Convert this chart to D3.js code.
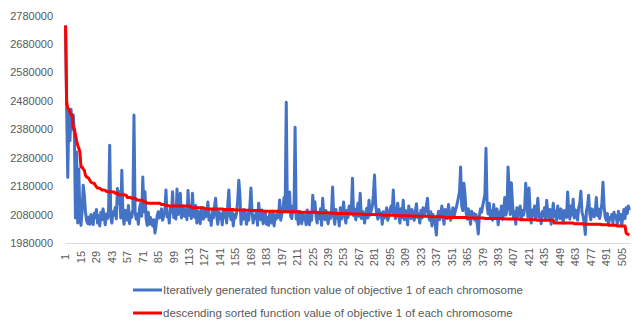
<!DOCTYPE html>
<html>
<head>
<meta charset="utf-8">
<script src="https://cdn.jsdelivr.net/npm/d3@7"></script>
<style>
    body { margin: 0; background: #fff; }
    text { font-family: "Liberation Sans", Arial, sans-serif; fill: #595959; }
</style>
</head>
<body>
<div id="chart"></div>
<script>

// function value of objective 1, one per chromosome
const objective1 = [
    2745000, 2455000, 2210000, 2440000, 2340000, 2450000, 2380000, 2430000, 2360000, 2068000, 2300000, 2050000, 2240000, 2075000, 2042000, 2090000,
    2183000, 2150000, 2092000, 2060000, 2048000, 2071000, 2046000, 2080000, 2064000, 2045000, 2085000, 2070000, 2098000, 2050000, 2076000, 2040000,
    2088000, 2062000, 2100000, 2072000, 2044000, 2082000, 2066000, 2095000, 2324000, 2070000, 2050000, 2090000, 2078000, 2105000, 2065000, 2172000,
    2120000, 2160000, 2068000, 2236000, 2080000, 2046000, 2095000, 2074000, 2060000, 2112000, 2048000, 2085000, 2070000, 2100000, 2430000, 2090000,
    2064000, 2082000, 2046000, 2100000, 2120000, 2074000, 2212000, 2090000, 2160000, 2066000, 2042000, 2088000, 2046000, 2070000, 2050000, 2040000,
    2062000, 2015000, 2040000, 2075000, 2090000, 2068000, 2082000, 2100000, 2060000, 2078000, 2095000, 2166000, 2072000, 2085000, 2050000, 2104000,
    2088000, 2160000, 2070000, 2092000, 2064000, 2170000, 2080000, 2098000, 2155000, 2068000, 2086000, 2110000, 2074000, 2096000, 2062000, 2165000,
    2078000, 2100000, 2066000, 2155000, 2085000, 2070000, 2112000, 2050000, 2092000, 2076000, 2048000, 2104000, 2080000, 2064000, 2095000, 2072000,
    2086000, 2124000, 2060000, 2078000, 2042000, 2094000, 2068000, 2110000, 2137000, 2074000, 2046000, 2090000, 2066000, 2082000, 2044000, 2098000,
    2070000, 2088000, 2050000, 2115000, 2166000, 2076000, 2062000, 2092000, 2040000, 2080000, 2068000, 2086000, 2130000, 2201000, 2150000, 2046000,
    2086000, 2064000, 2098000, 2072000, 2046000, 2084000, 2060000, 2110000, 2173000, 2090000, 2050000, 2076000, 2066000, 2094000, 2042000, 2120000,
    2080000, 2062000, 2096000, 2048000, 2074000, 2088000, 2046000, 2070000, 2042000, 2084000, 2066000, 2050000, 2092000, 2040000, 2078000, 2064000,
    2086000, 2070000, 2131000, 2060000, 2082000, 2100000, 2140000, 2095000, 2475000, 2090000, 2150000, 2159000, 2074000, 2066000, 2110000, 2088000,
    2387000, 2064000, 2080000, 2046000, 2092000, 2070000, 2048000, 2084000, 2062000, 2076000, 2044000, 2096000, 2068000, 2044000, 2082000, 2060000,
    2148000, 2090000, 2125000, 2072000, 2050000, 2086000, 2066000, 2100000, 2042000, 2137000, 2078000, 2062000, 2094000, 2070000, 2048000, 2084000,
    2066000, 2090000, 2177000, 2074000, 2046000, 2098000, 2068000, 2082000, 2040000, 2104000, 2064000, 2088000, 2124000, 2072000, 2050000, 2094000,
    2070000, 2110000, 2084000, 2096000, 2208000, 2076000, 2100000, 2062000, 2088000, 2120000, 2074000, 2155000, 2066000, 2092000, 2080000, 2050000,
    2086000, 2102000, 2068000, 2130000, 2078000, 2094000, 2110000, 2150000, 2219000, 2115000, 2082000, 2064000, 2098000, 2072000, 2086000, 2046000,
    2090000, 2068000, 2080000, 2104000, 2060000, 2074000, 2096000, 2110000, 2088000, 2166000, 2082000, 2066000, 2092000, 2120000, 2076000, 2050000,
    2100000, 2070000, 2130000, 2062000, 2094000, 2078000, 2044000, 2110000, 2084000, 2066000, 2098000, 2074000, 2060000, 2090000, 2118000, 2070000,
    2082000, 2050000, 2094000, 2068000, 2104000, 2076000, 2088000, 2112000, 2137000, 2072000, 2060000, 2090000, 2040000, 2080000, 2066000, 2046000,
    2008000, 2070000, 2092000, 2062000, 2084000, 2110000, 2074000, 2046000, 2098000, 2080000, 2066000, 2115000, 2088000, 2060000, 2076000, 2104000,
    2070000, 2090000, 2104000, 2120000, 2140000, 2160000, 2247000, 2110000, 2094000, 2190000, 2150000, 2086000, 2064000, 2100000, 2078000, 2046000,
    2092000, 2068000, 2084000, 2060000, 2080000, 2048000, 2012000, 2076000, 2100000, 2088000, 2110000, 2130000, 2150000, 2313000, 2110000, 2082000,
    2120000, 2070000, 2094000, 2060000, 2115000, 2080000, 2066000, 2100000, 2044000, 2088000, 2074000, 2110000, 2062000, 2092000, 2140000, 2078000,
    2096000, 2247000, 2160000, 2080000, 2192000, 2120000, 2068000, 2090000, 2046000, 2104000, 2074000, 2086000, 2110000, 2062000, 2094000, 2078000,
    2100000, 2190000, 2120000, 2072000, 2173000, 2088000, 2050000, 2096000, 2076000, 2110000, 2064000, 2092000, 2137000, 2070000, 2082000, 2048000,
    2090000, 2074000, 2104000, 2062000, 2130000, 2086000, 2068000, 2098000, 2046000, 2080000, 2120000, 2072000, 2092000, 2060000, 2110000, 2084000,
    2066000, 2100000, 2076000, 2050000, 2094000, 2086000, 2070000, 2159000, 2090000, 2064000, 2110000, 2078000, 2134000, 2068000, 2096000, 2082000,
    2060000, 2104000, 2120000, 2162000, 2088000, 2074000, 2050000, 2010000, 2092000, 2110000, 2148000, 2084000, 2062000, 2100000, 2094000, 2072000,
    2090000, 2140000, 2076000, 2100000, 2066000, 2088000, 2120000, 2194000, 2110000, 2072000, 2060000, 2084000, 2042000, 2070000, 2064000, 2080000,
    2050000, 2088000, 2068000, 2076000, 2044000, 2092000, 2062000, 2080000, 2040000, 2074000, 2098000, 2066000, 2104000, 2084000, 2110000, 2096000
];

// second series is the same values sorted from high to low
const sortedDesc = d3.sort(objective1, (a, b) => b - a);

// chromosome number 1..n
const chromosomes = objective1.map((d, i) => i + 1);

const xTickLabels = [1, 15, 29, 43, 57, 71, 85, 99, 113, 127, 141, 155, 169, 183, 197, 211, 225, 239, 253,
    267, 281, 295, 309, 323, 337, 351, 365, 379, 393, 407, 421, 435, 449, 463, 477, 491, 505];
const yTicks = [1980000, 2080000, 2180000, 2280000, 2380000, 2480000, 2580000, 2680000, 2780000];

const seriesNames = [
    "Iteratively generated function value of objective 1 of each chromosome",
    "descending sorted function value of objective 1 of each chromosome"
];
const seriesColors = ["#4472c4", "#ff0000"];

let width = 632, height = 322;
let plot = {left: 65, right: 630, top: 15.5, bottom: 243};

let svg = d3.select("#chart").append("svg")
    .attr("width", width)
    .attr("height", height);

// scales
let x = d3.scaleBand()
    .domain(chromosomes)
    .range([plot.left, plot.right]);

let y = d3.scaleLinear()
    .domain([yTicks[0], yTicks[yTicks.length - 1]])
    .range([plot.bottom, plot.top]);

// y axis, labels only
let yAxis = d3.axisLeft(y)
    .tickValues(yTicks)
    .tickFormat(d3.format("d"))
    .tickSize(0)
    .tickPadding(12);

svg.append("g")
    .attr("class", "y-axis")
    .attr("transform", "translate(" + plot.left + ",0)")
    .call(yAxis)
    .call(g => g.select(".domain").remove())
    .selectAll("text")
    .style("font-size", "11px")
    .style("fill", "#595959");

// x axis, rotated labels
let xAxis = d3.axisBottom(x)
    .tickValues(xTickLabels)
    .tickSize(0);

let gx = svg.append("g")
    .attr("class", "x-axis")
    .attr("transform", "translate(0," + plot.bottom + ")")
    .call(xAxis);

gx.select(".domain")
    .attr("stroke", "#d9d9d9")
    .attr("stroke-width", 1);

gx.selectAll("text")
    .style("font-size", "11px")
    .style("fill", "#595959")
    .attr("text-anchor", "middle")
    .attr("y", 0)
    .attr("dy", "0.35em")
    .attr("transform", "translate(0,14) rotate(-90)");

// lines
let line = d3.line()
    .x((d, i) => x(chromosomes[i]) + x.bandwidth() / 2)
    .y(d => y(d));

[objective1, sortedDesc].forEach((series, k) => {
    svg.append("path")
        .datum(series)
        .attr("class", "series series-" + k)
        .attr("fill", "none")
        .attr("stroke", seriesColors[k])
        .attr("stroke-width", 3)
        .attr("stroke-linejoin", "round")
        .attr("d", line);
});

// legend
let legend = svg.append("g")
    .attr("class", "legend")
    .attr("transform", "translate(133, 290)");

seriesNames.forEach((name, k) => {
    let row = legend.append("g")
        .attr("transform", "translate(0," + (k * 23) + ")");

    row.append("line")
        .attr("x1", 0)
        .attr("x2", 29)
        .attr("stroke", seriesColors[k])
        .attr("stroke-width", 3);

    row.append("text")
        .attr("x", 30)
        .attr("dy", "0.35em")
        .style("font-size", "11.5px")
        .text(name);
});

</script>
</body>
</html>
